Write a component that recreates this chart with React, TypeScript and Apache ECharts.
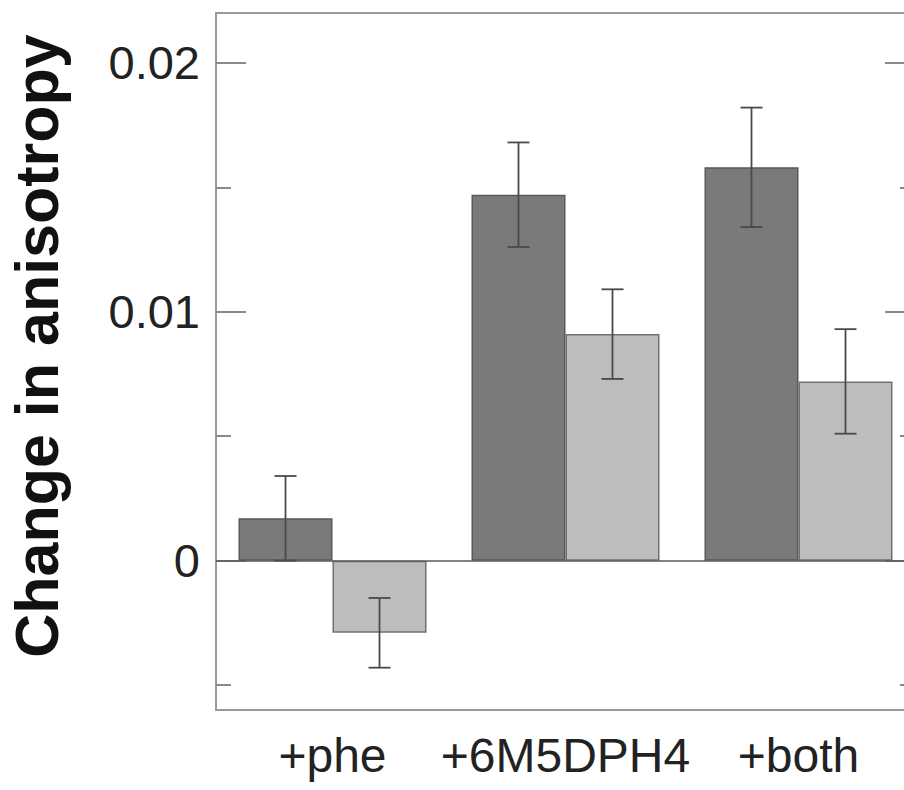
import React, { useEffect, useRef } from "react";
import * as echarts from "echarts";

const categories = ["+phe", "+6M5DPH4", "+both"];
const darkValues = [0.0017, 0.0147, 0.0158];
const darkErrors = [0.0017, 0.0021, 0.0024];
const lightValues = [-0.0029, 0.0091, 0.0072];
const lightErrors = [0.0014, 0.0018, 0.0021];
const majorTicks = [0, 0.01, 0.02];
const minorTicks = [-0.005, 0.005, 0.015];
const yMin = -0.006;
const yMax = 0.022;
const yTitle = "Change in anisotropy";

const BAR_W = 94;
const CAP_W = 22;

export default function App() {
  const ref = useRef<HTMLDivElement>(null);
  useEffect(() => {
    document.body.style.margin = "0";
    const chart = echarts.init(ref.current!, null, { renderer: "svg" });
    const errData: number[][] = [];
    categories.forEach((_, i) => {
      errData.push([i, darkValues[i] - darkErrors[i], darkValues[i] + darkErrors[i], -1]);
      errData.push([i, lightValues[i] - lightErrors[i], lightValues[i] + lightErrors[i], 1]);
    });
    const font = "'Liberation Sans', Arial, Helvetica, sans-serif";
    const yBase = {
      type: "value",
      min: yMin,
      max: yMax,
      splitLine: { show: false },
      axisLine: { show: false },
    };
    chart.setOption({
      animation: false,
      backgroundColor: "#ffffff",
      grid: {
        left: 216,
        right: 5,
        top: 13,
        bottom: 80,
        show: true,
        borderColor: "#9a9a9a",
        borderWidth: 2,
        backgroundColor: "transparent",
      },
      graphic: [
        {
          type: "text",
          x: 37,
          y: 346,
          rotation: Math.PI / 2,
          style: {
            text: yTitle,
            fontFamily: font,
            fontWeight: "bold",
            fontSize: 61,
            fill: "#111",
            align: "center",
            verticalAlign: "middle",
          },
        },
      ],
      xAxis: {
        type: "category",
        data: categories,
        axisLine: { show: false },
        axisTick: { show: false },
        axisLabel: {
          interval: 0,
          hideOverlap: false,
          fontSize: 48,
          fontFamily: font,
          color: "#222",
          margin: 21,
        },
      },
      yAxis: [
        {
          ...yBase,
          position: "left",
          axisTick: {
            show: true,
            inside: true,
            length: 30,
            customValues: majorTicks,
            lineStyle: { color: "#8a8a8a", width: 2 },
          },
          axisLabel: {
            show: true,
            customValues: majorTicks,
            margin: 16,
            fontSize: 47,
            fontFamily: font,
            color: "#222",
            formatter: (v: number) => (v === 0 ? "0" : v.toFixed(2)),
          },
        },
        {
          ...yBase,
          position: "left",
          axisTick: {
            show: true,
            inside: true,
            length: 15,
            customValues: minorTicks,
            lineStyle: { color: "#8a8a8a", width: 2 },
          },
          axisLabel: { show: false },
        },
        {
          ...yBase,
          position: "right",
          axisTick: {
            show: true,
            inside: true,
            length: 30,
            customValues: majorTicks,
            lineStyle: { color: "#8a8a8a", width: 2 },
          },
          axisLabel: { show: false },
        },
        {
          ...yBase,
          position: "right",
          axisTick: {
            show: true,
            inside: true,
            length: 15,
            customValues: minorTicks,
            lineStyle: { color: "#8a8a8a", width: 2 },
          },
          axisLabel: { show: false },
        },
      ],
      series: [
        {
          type: "bar",
          data: darkValues,
          barWidth: BAR_W,
          barGap: "0%",
          itemStyle: { color: "#7a7a7a", borderColor: "#585858", borderWidth: 1.5 },
          markLine: {
            silent: true,
            symbol: "none",
            label: { show: false },
            lineStyle: { color: "#5a5a5a", width: 1.5, type: "solid" },
            data: [{ yAxis: 0 }],
          },
        },
        {
          type: "bar",
          data: lightValues,
          barWidth: BAR_W,
          barGap: "0%",
          itemStyle: { color: "#bdbdbd", borderColor: "#707070", borderWidth: 1.5 },
        },
        {
          type: "custom",
          data: errData,
          z: 10,
          renderItem: (params: any, api: any) => {
            const cat = api.value(0);
            const sign = api.value(3);
            const cx = api.coord([cat, 0])[0] + (sign * BAR_W) / 2;
            const yLo = api.coord([cat, api.value(1)])[1];
            const yHi = api.coord([cat, api.value(2)])[1];
            const style = { stroke: "#4a4a4a", lineWidth: 1.8 };
            return {
              type: "group",
              children: [
                { type: "line", shape: { x1: cx, y1: yLo, x2: cx, y2: yHi }, style },
                { type: "line", shape: { x1: cx - CAP_W / 2, y1: yLo, x2: cx + CAP_W / 2, y2: yLo }, style },
                { type: "line", shape: { x1: cx - CAP_W / 2, y1: yHi, x2: cx + CAP_W / 2, y2: yHi }, style },
              ],
            };
          },
        },
      ],
    });
    return () => chart.dispose();
  }, []);
  return (
    <div style={{ width: 904, height: 790, overflow: "hidden", position: "relative" }}>
      <div ref={ref} style={{ width: 920, height: 790 }} />
    </div>
  );
}
